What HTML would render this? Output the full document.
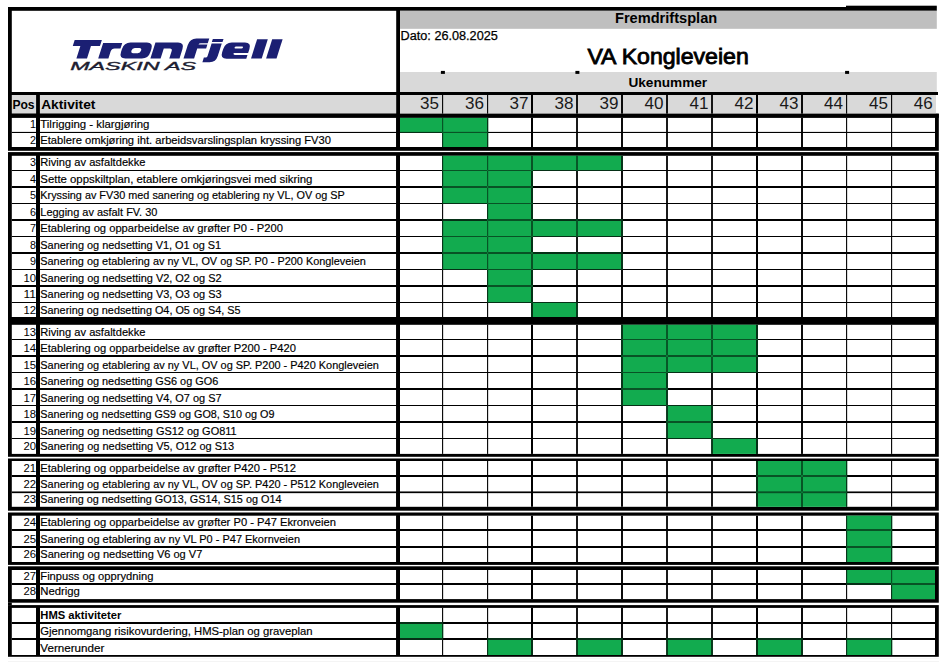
<!DOCTYPE html>
<html><head><meta charset="utf-8"><title>Fremdriftsplan</title>
<style>
html,body{margin:0;padding:0;background:#fff;}
body{width:947px;height:662px;overflow:hidden;}
svg{display:block;font-family:"Liberation Sans",sans-serif;}
</style></head><body>
<svg width="947" height="662" viewBox="0 0 947 662">
<rect width="947" height="662" fill="#fff"/>
<g>
<rect x="8.00" y="7.00" width="392.00" height="88.00" fill="#000"/>
<rect x="400.00" y="7.00" width="536.80" height="3.80" fill="#000"/>
<rect x="846.00" y="5.70" width="90.80" height="1.50" fill="#000"/>
<rect x="11.80" y="10.80" width="384.40" height="81.20" fill="#fff"/>
<rect x="400.00" y="10.80" width="536.80" height="18.10" fill="#bfbfbf"/>
<rect x="400.00" y="28.90" width="536.80" height="43.10" fill="#fff"/>
<rect x="400.00" y="72.00" width="536.80" height="20.00" fill="#d9d9d9"/>
<rect x="8.00" y="92.00" width="930.00" height="3.00" fill="#000"/>
<rect x="8.00" y="95.00" width="392.00" height="22.90" fill="#000"/>
<rect x="400.00" y="113.70" width="538.80" height="4.20" fill="#000"/>
<rect x="11.80" y="95.00" width="24.30" height="18.70" fill="#d9d9d9"/>
<rect x="39.90" y="95.00" width="356.30" height="18.70" fill="#d9d9d9"/>
<rect x="400.00" y="95.00" width="536.00" height="18.70" fill="#d9d9d9"/>
<rect x="442.05" y="95.00" width="1.10" height="18.70" fill="#000"/>
<rect x="487.05" y="95.00" width="1.10" height="18.70" fill="#000"/>
<rect x="531.00" y="95.00" width="2.00" height="18.70" fill="#000"/>
<rect x="576.10" y="95.00" width="1.80" height="18.70" fill="#000"/>
<rect x="621.05" y="95.00" width="1.90" height="18.70" fill="#000"/>
<rect x="666.10" y="95.00" width="1.80" height="18.70" fill="#000"/>
<rect x="711.10" y="95.00" width="1.80" height="18.70" fill="#000"/>
<rect x="756.00" y="95.00" width="2.00" height="18.70" fill="#000"/>
<rect x="801.05" y="95.00" width="1.90" height="18.70" fill="#000"/>
<rect x="846.05" y="95.00" width="1.10" height="18.70" fill="#000"/>
<rect x="891.05" y="95.00" width="1.10" height="18.70" fill="#000"/>
<rect x="440.90" y="70.90" width="4.00" height="3.00" fill="#000"/>
<rect x="575.40" y="70.90" width="4.00" height="3.00" fill="#000"/>
<rect x="845.10" y="70.90" width="4.00" height="3.00" fill="#000"/>
<rect x="8.00" y="113.70" width="930.80" height="37.10" fill="#000"/>
<rect x="11.80" y="117.90" width="24.30" height="29.10" fill="#fff"/>
<rect x="39.90" y="117.90" width="356.30" height="29.10" fill="#fff"/>
<rect x="400.00" y="117.90" width="535.00" height="29.10" fill="#fff"/>
<rect x="8.00" y="152.10" width="930.80" height="168.90" fill="#000"/>
<rect x="11.80" y="155.80" width="24.30" height="161.20" fill="#fff"/>
<rect x="39.90" y="155.80" width="356.30" height="161.20" fill="#fff"/>
<rect x="400.00" y="155.80" width="535.00" height="161.20" fill="#fff"/>
<rect x="8.00" y="321.00" width="930.80" height="135.80" fill="#000"/>
<rect x="11.80" y="324.80" width="24.30" height="129.10" fill="#fff"/>
<rect x="39.90" y="324.80" width="356.30" height="129.10" fill="#fff"/>
<rect x="400.00" y="324.80" width="535.00" height="129.10" fill="#fff"/>
<rect x="8.00" y="458.50" width="930.80" height="52.20" fill="#000"/>
<rect x="11.80" y="461.00" width="24.30" height="45.80" fill="#fff"/>
<rect x="39.90" y="461.00" width="356.30" height="45.80" fill="#fff"/>
<rect x="400.00" y="461.00" width="535.00" height="45.80" fill="#fff"/>
<rect x="8.00" y="512.50" width="930.80" height="52.40" fill="#000"/>
<rect x="11.80" y="515.70" width="24.30" height="46.30" fill="#fff"/>
<rect x="39.90" y="515.70" width="356.30" height="46.30" fill="#fff"/>
<rect x="400.00" y="515.70" width="535.00" height="46.30" fill="#fff"/>
<rect x="8.00" y="566.30" width="930.80" height="36.40" fill="#000"/>
<rect x="11.80" y="570.00" width="24.30" height="29.10" fill="#fff"/>
<rect x="39.90" y="570.00" width="356.30" height="29.10" fill="#fff"/>
<rect x="400.00" y="570.00" width="535.00" height="29.10" fill="#fff"/>
<rect x="8.00" y="605.10" width="930.80" height="51.70" fill="#000"/>
<rect x="11.80" y="607.90" width="24.30" height="47.10" fill="#fff"/>
<rect x="39.90" y="607.90" width="356.30" height="47.10" fill="#fff"/>
<rect x="400.00" y="607.90" width="535.00" height="47.10" fill="#fff"/>
<rect x="8.00" y="602.60" width="3.80" height="2.60" fill="#000"/>
<rect x="400.00" y="117.90" width="43.20" height="14.55" fill="#12ab50"/>
<rect x="442.60" y="117.90" width="45.60" height="14.55" fill="#12ab50"/>
<rect x="442.60" y="132.45" width="45.60" height="14.55" fill="#12ab50"/>
<rect x="442.60" y="155.80" width="45.60" height="14.70" fill="#12ab50"/>
<rect x="487.60" y="155.80" width="45.00" height="14.70" fill="#12ab50"/>
<rect x="532.00" y="155.80" width="45.60" height="14.70" fill="#12ab50"/>
<rect x="577.00" y="155.80" width="45.60" height="14.70" fill="#12ab50"/>
<rect x="442.60" y="170.50" width="45.60" height="16.50" fill="#12ab50"/>
<rect x="487.60" y="170.50" width="45.00" height="16.50" fill="#12ab50"/>
<rect x="442.60" y="187.00" width="45.60" height="16.50" fill="#12ab50"/>
<rect x="487.60" y="187.00" width="45.00" height="16.50" fill="#12ab50"/>
<rect x="487.60" y="203.50" width="45.00" height="16.50" fill="#12ab50"/>
<rect x="442.60" y="220.00" width="45.60" height="16.50" fill="#12ab50"/>
<rect x="487.60" y="220.00" width="45.00" height="16.50" fill="#12ab50"/>
<rect x="532.00" y="220.00" width="45.60" height="16.50" fill="#12ab50"/>
<rect x="577.00" y="220.00" width="45.60" height="16.50" fill="#12ab50"/>
<rect x="442.60" y="236.50" width="45.60" height="16.50" fill="#12ab50"/>
<rect x="487.60" y="236.50" width="45.00" height="16.50" fill="#12ab50"/>
<rect x="442.60" y="253.00" width="45.60" height="16.50" fill="#12ab50"/>
<rect x="487.60" y="253.00" width="45.00" height="16.50" fill="#12ab50"/>
<rect x="532.00" y="253.00" width="45.60" height="16.50" fill="#12ab50"/>
<rect x="577.00" y="253.00" width="45.60" height="16.50" fill="#12ab50"/>
<rect x="487.60" y="269.50" width="45.00" height="16.50" fill="#12ab50"/>
<rect x="487.60" y="286.00" width="45.00" height="16.50" fill="#12ab50"/>
<rect x="532.00" y="302.50" width="45.60" height="14.50" fill="#12ab50"/>
<rect x="622.00" y="324.80" width="45.60" height="14.70" fill="#12ab50"/>
<rect x="667.00" y="324.80" width="45.60" height="14.70" fill="#12ab50"/>
<rect x="712.00" y="324.80" width="45.60" height="14.70" fill="#12ab50"/>
<rect x="622.00" y="339.50" width="45.60" height="16.50" fill="#12ab50"/>
<rect x="667.00" y="339.50" width="45.60" height="16.50" fill="#12ab50"/>
<rect x="712.00" y="339.50" width="45.60" height="16.50" fill="#12ab50"/>
<rect x="622.00" y="356.00" width="45.60" height="16.50" fill="#12ab50"/>
<rect x="667.00" y="356.00" width="45.60" height="16.50" fill="#12ab50"/>
<rect x="712.00" y="356.00" width="45.60" height="16.50" fill="#12ab50"/>
<rect x="622.00" y="372.50" width="45.60" height="16.50" fill="#12ab50"/>
<rect x="622.00" y="389.00" width="45.60" height="16.50" fill="#12ab50"/>
<rect x="667.00" y="405.50" width="45.60" height="16.50" fill="#12ab50"/>
<rect x="667.00" y="422.00" width="45.60" height="16.50" fill="#12ab50"/>
<rect x="712.00" y="438.50" width="45.60" height="15.40" fill="#12ab50"/>
<rect x="757.00" y="461.00" width="45.60" height="15.00" fill="#12ab50"/>
<rect x="802.00" y="461.00" width="45.20" height="15.00" fill="#12ab50"/>
<rect x="757.00" y="476.00" width="45.60" height="16.30" fill="#12ab50"/>
<rect x="802.00" y="476.00" width="45.20" height="16.30" fill="#12ab50"/>
<rect x="757.00" y="492.30" width="45.60" height="14.50" fill="#12ab50"/>
<rect x="802.00" y="492.30" width="45.20" height="14.50" fill="#12ab50"/>
<rect x="846.60" y="515.70" width="45.60" height="14.30" fill="#12ab50"/>
<rect x="846.60" y="530.00" width="45.60" height="17.00" fill="#12ab50"/>
<rect x="846.60" y="547.00" width="45.60" height="15.00" fill="#12ab50"/>
<rect x="846.60" y="570.00" width="45.60" height="14.00" fill="#12ab50"/>
<rect x="891.60" y="570.00" width="43.40" height="14.00" fill="#12ab50"/>
<rect x="891.60" y="584.00" width="43.40" height="15.10" fill="#12ab50"/>
<rect x="400.00" y="623.00" width="43.20" height="16.00" fill="#12ab50"/>
<rect x="487.60" y="639.00" width="45.00" height="16.00" fill="#12ab50"/>
<rect x="577.00" y="639.00" width="45.60" height="16.00" fill="#12ab50"/>
<rect x="667.00" y="639.00" width="45.60" height="16.00" fill="#12ab50"/>
<rect x="757.00" y="639.00" width="45.60" height="16.00" fill="#12ab50"/>
<rect x="846.60" y="639.00" width="45.60" height="16.00" fill="#12ab50"/>
<rect x="11.80" y="131.90" width="923.20" height="1.10" fill="#000"/>
<rect x="442.05" y="117.90" width="1.10" height="29.10" fill="#000"/>
<rect x="487.05" y="117.90" width="1.10" height="29.10" fill="#000"/>
<rect x="531.00" y="117.90" width="2.00" height="29.10" fill="#000"/>
<rect x="576.10" y="117.90" width="1.80" height="29.10" fill="#000"/>
<rect x="621.05" y="117.90" width="1.90" height="29.10" fill="#000"/>
<rect x="666.10" y="117.90" width="1.80" height="29.10" fill="#000"/>
<rect x="711.10" y="117.90" width="1.80" height="29.10" fill="#000"/>
<rect x="756.00" y="117.90" width="2.00" height="29.10" fill="#000"/>
<rect x="801.05" y="117.90" width="1.90" height="29.10" fill="#000"/>
<rect x="846.05" y="117.90" width="1.10" height="29.10" fill="#000"/>
<rect x="891.05" y="117.90" width="1.10" height="29.10" fill="#000"/>
<rect x="36.10" y="117.90" width="3.80" height="29.10" fill="#000"/>
<rect x="396.20" y="117.90" width="3.80" height="29.10" fill="#000"/>
<rect x="11.80" y="170.00" width="923.20" height="1.00" fill="#000"/>
<rect x="11.80" y="186.00" width="923.20" height="2.00" fill="#000"/>
<rect x="11.80" y="203.00" width="923.20" height="1.00" fill="#000"/>
<rect x="11.80" y="219.00" width="923.20" height="2.00" fill="#000"/>
<rect x="11.80" y="236.00" width="923.20" height="1.00" fill="#000"/>
<rect x="11.80" y="252.00" width="923.20" height="2.00" fill="#000"/>
<rect x="11.80" y="269.00" width="923.20" height="1.00" fill="#000"/>
<rect x="11.80" y="285.00" width="923.20" height="2.00" fill="#000"/>
<rect x="11.80" y="302.00" width="923.20" height="1.00" fill="#000"/>
<rect x="442.05" y="155.80" width="1.10" height="161.20" fill="#000"/>
<rect x="487.05" y="155.80" width="1.10" height="161.20" fill="#000"/>
<rect x="531.00" y="155.80" width="2.00" height="161.20" fill="#000"/>
<rect x="576.10" y="155.80" width="1.80" height="161.20" fill="#000"/>
<rect x="621.05" y="155.80" width="1.90" height="161.20" fill="#000"/>
<rect x="666.10" y="155.80" width="1.80" height="161.20" fill="#000"/>
<rect x="711.10" y="155.80" width="1.80" height="161.20" fill="#000"/>
<rect x="756.00" y="155.80" width="2.00" height="161.20" fill="#000"/>
<rect x="801.05" y="155.80" width="1.90" height="161.20" fill="#000"/>
<rect x="846.05" y="155.80" width="1.10" height="161.20" fill="#000"/>
<rect x="891.05" y="155.80" width="1.10" height="161.20" fill="#000"/>
<rect x="36.10" y="155.80" width="3.80" height="161.20" fill="#000"/>
<rect x="396.20" y="155.80" width="3.80" height="161.20" fill="#000"/>
<rect x="11.80" y="339.00" width="923.20" height="1.00" fill="#000"/>
<rect x="11.80" y="355.00" width="923.20" height="2.00" fill="#000"/>
<rect x="11.80" y="372.00" width="923.20" height="1.00" fill="#000"/>
<rect x="11.80" y="388.00" width="923.20" height="2.00" fill="#000"/>
<rect x="11.80" y="405.00" width="923.20" height="1.00" fill="#000"/>
<rect x="11.80" y="421.00" width="923.20" height="2.00" fill="#000"/>
<rect x="11.80" y="438.00" width="923.20" height="1.00" fill="#000"/>
<rect x="442.05" y="324.80" width="1.10" height="129.10" fill="#000"/>
<rect x="487.05" y="324.80" width="1.10" height="129.10" fill="#000"/>
<rect x="531.00" y="324.80" width="2.00" height="129.10" fill="#000"/>
<rect x="576.10" y="324.80" width="1.80" height="129.10" fill="#000"/>
<rect x="621.05" y="324.80" width="1.90" height="129.10" fill="#000"/>
<rect x="666.10" y="324.80" width="1.80" height="129.10" fill="#000"/>
<rect x="711.10" y="324.80" width="1.80" height="129.10" fill="#000"/>
<rect x="756.00" y="324.80" width="2.00" height="129.10" fill="#000"/>
<rect x="801.05" y="324.80" width="1.90" height="129.10" fill="#000"/>
<rect x="846.05" y="324.80" width="1.10" height="129.10" fill="#000"/>
<rect x="891.05" y="324.80" width="1.10" height="129.10" fill="#000"/>
<rect x="36.10" y="324.80" width="3.80" height="129.10" fill="#000"/>
<rect x="396.20" y="324.80" width="3.80" height="129.10" fill="#000"/>
<rect x="11.80" y="475.00" width="923.20" height="2.00" fill="#000"/>
<rect x="11.80" y="491.45" width="923.20" height="1.70" fill="#000"/>
<rect x="442.05" y="461.00" width="1.10" height="45.80" fill="#000"/>
<rect x="487.05" y="461.00" width="1.10" height="45.80" fill="#000"/>
<rect x="531.00" y="461.00" width="2.00" height="45.80" fill="#000"/>
<rect x="576.10" y="461.00" width="1.80" height="45.80" fill="#000"/>
<rect x="621.05" y="461.00" width="1.90" height="45.80" fill="#000"/>
<rect x="666.10" y="461.00" width="1.80" height="45.80" fill="#000"/>
<rect x="711.10" y="461.00" width="1.80" height="45.80" fill="#000"/>
<rect x="756.00" y="461.00" width="2.00" height="45.80" fill="#000"/>
<rect x="801.05" y="461.00" width="1.90" height="45.80" fill="#000"/>
<rect x="846.05" y="461.00" width="1.10" height="45.80" fill="#000"/>
<rect x="891.05" y="461.00" width="1.10" height="45.80" fill="#000"/>
<rect x="36.10" y="461.00" width="3.80" height="45.80" fill="#000"/>
<rect x="396.20" y="461.00" width="3.80" height="45.80" fill="#000"/>
<rect x="11.80" y="529.00" width="923.20" height="2.00" fill="#000"/>
<rect x="11.80" y="546.00" width="923.20" height="2.00" fill="#000"/>
<rect x="442.05" y="515.70" width="1.10" height="46.30" fill="#000"/>
<rect x="487.05" y="515.70" width="1.10" height="46.30" fill="#000"/>
<rect x="531.00" y="515.70" width="2.00" height="46.30" fill="#000"/>
<rect x="576.10" y="515.70" width="1.80" height="46.30" fill="#000"/>
<rect x="621.05" y="515.70" width="1.90" height="46.30" fill="#000"/>
<rect x="666.10" y="515.70" width="1.80" height="46.30" fill="#000"/>
<rect x="711.10" y="515.70" width="1.80" height="46.30" fill="#000"/>
<rect x="756.00" y="515.70" width="2.00" height="46.30" fill="#000"/>
<rect x="801.05" y="515.70" width="1.90" height="46.30" fill="#000"/>
<rect x="846.05" y="515.70" width="1.10" height="46.30" fill="#000"/>
<rect x="891.05" y="515.70" width="1.10" height="46.30" fill="#000"/>
<rect x="36.10" y="515.70" width="3.80" height="46.30" fill="#000"/>
<rect x="396.20" y="515.70" width="3.80" height="46.30" fill="#000"/>
<rect x="11.80" y="583.00" width="923.20" height="2.00" fill="#000"/>
<rect x="442.05" y="570.00" width="1.10" height="29.10" fill="#000"/>
<rect x="487.05" y="570.00" width="1.10" height="29.10" fill="#000"/>
<rect x="531.00" y="570.00" width="2.00" height="29.10" fill="#000"/>
<rect x="576.10" y="570.00" width="1.80" height="29.10" fill="#000"/>
<rect x="621.05" y="570.00" width="1.90" height="29.10" fill="#000"/>
<rect x="666.10" y="570.00" width="1.80" height="29.10" fill="#000"/>
<rect x="711.10" y="570.00" width="1.80" height="29.10" fill="#000"/>
<rect x="756.00" y="570.00" width="2.00" height="29.10" fill="#000"/>
<rect x="801.05" y="570.00" width="1.90" height="29.10" fill="#000"/>
<rect x="846.05" y="570.00" width="1.10" height="29.10" fill="#000"/>
<rect x="891.05" y="570.00" width="1.10" height="29.10" fill="#000"/>
<rect x="36.10" y="570.00" width="3.80" height="29.10" fill="#000"/>
<rect x="396.20" y="570.00" width="3.80" height="29.10" fill="#000"/>
<rect x="11.80" y="622.00" width="923.20" height="2.00" fill="#000"/>
<rect x="11.80" y="638.00" width="923.20" height="2.00" fill="#000"/>
<rect x="442.05" y="607.90" width="1.10" height="47.10" fill="#000"/>
<rect x="487.05" y="607.90" width="1.10" height="47.10" fill="#000"/>
<rect x="531.00" y="607.90" width="2.00" height="47.10" fill="#000"/>
<rect x="576.10" y="607.90" width="1.80" height="47.10" fill="#000"/>
<rect x="621.05" y="607.90" width="1.90" height="47.10" fill="#000"/>
<rect x="666.10" y="607.90" width="1.80" height="47.10" fill="#000"/>
<rect x="711.10" y="607.90" width="1.80" height="47.10" fill="#000"/>
<rect x="756.00" y="607.90" width="2.00" height="47.10" fill="#000"/>
<rect x="801.05" y="607.90" width="1.90" height="47.10" fill="#000"/>
<rect x="846.05" y="607.90" width="1.10" height="47.10" fill="#000"/>
<rect x="891.05" y="607.90" width="1.10" height="47.10" fill="#000"/>
<rect x="36.10" y="607.90" width="3.80" height="47.10" fill="#000"/>
<rect x="396.20" y="607.90" width="3.80" height="47.10" fill="#000"/>
<rect x="400.00" y="117.90" width="43.15" height="15.10" fill="#12ab50" fill-opacity="0.28"/>
<rect x="442.05" y="117.90" width="46.10" height="15.10" fill="#12ab50" fill-opacity="0.28"/>
<rect x="442.05" y="131.90" width="46.10" height="15.10" fill="#12ab50" fill-opacity="0.28"/>
<rect x="442.05" y="155.80" width="46.10" height="15.20" fill="#12ab50" fill-opacity="0.28"/>
<rect x="487.05" y="155.80" width="45.95" height="15.20" fill="#12ab50" fill-opacity="0.28"/>
<rect x="531.00" y="155.80" width="46.90" height="15.20" fill="#12ab50" fill-opacity="0.28"/>
<rect x="576.10" y="155.80" width="46.85" height="15.20" fill="#12ab50" fill-opacity="0.28"/>
<rect x="442.05" y="170.00" width="46.10" height="18.00" fill="#12ab50" fill-opacity="0.28"/>
<rect x="487.05" y="170.00" width="45.95" height="18.00" fill="#12ab50" fill-opacity="0.28"/>
<rect x="442.05" y="186.00" width="46.10" height="18.00" fill="#12ab50" fill-opacity="0.28"/>
<rect x="487.05" y="186.00" width="45.95" height="18.00" fill="#12ab50" fill-opacity="0.28"/>
<rect x="487.05" y="203.00" width="45.95" height="18.00" fill="#12ab50" fill-opacity="0.28"/>
<rect x="442.05" y="219.00" width="46.10" height="18.00" fill="#12ab50" fill-opacity="0.28"/>
<rect x="487.05" y="219.00" width="45.95" height="18.00" fill="#12ab50" fill-opacity="0.28"/>
<rect x="531.00" y="219.00" width="46.90" height="18.00" fill="#12ab50" fill-opacity="0.28"/>
<rect x="576.10" y="219.00" width="46.85" height="18.00" fill="#12ab50" fill-opacity="0.28"/>
<rect x="442.05" y="236.00" width="46.10" height="18.00" fill="#12ab50" fill-opacity="0.28"/>
<rect x="487.05" y="236.00" width="45.95" height="18.00" fill="#12ab50" fill-opacity="0.28"/>
<rect x="442.05" y="252.00" width="46.10" height="18.00" fill="#12ab50" fill-opacity="0.28"/>
<rect x="487.05" y="252.00" width="45.95" height="18.00" fill="#12ab50" fill-opacity="0.28"/>
<rect x="531.00" y="252.00" width="46.90" height="18.00" fill="#12ab50" fill-opacity="0.28"/>
<rect x="576.10" y="252.00" width="46.85" height="18.00" fill="#12ab50" fill-opacity="0.28"/>
<rect x="487.05" y="269.00" width="45.95" height="18.00" fill="#12ab50" fill-opacity="0.28"/>
<rect x="487.05" y="285.00" width="45.95" height="18.00" fill="#12ab50" fill-opacity="0.28"/>
<rect x="531.00" y="302.00" width="46.90" height="15.00" fill="#12ab50" fill-opacity="0.28"/>
<rect x="621.05" y="324.80" width="46.85" height="15.20" fill="#12ab50" fill-opacity="0.28"/>
<rect x="666.10" y="324.80" width="46.80" height="15.20" fill="#12ab50" fill-opacity="0.28"/>
<rect x="711.10" y="324.80" width="46.90" height="15.20" fill="#12ab50" fill-opacity="0.28"/>
<rect x="621.05" y="339.00" width="46.85" height="18.00" fill="#12ab50" fill-opacity="0.28"/>
<rect x="666.10" y="339.00" width="46.80" height="18.00" fill="#12ab50" fill-opacity="0.28"/>
<rect x="711.10" y="339.00" width="46.90" height="18.00" fill="#12ab50" fill-opacity="0.28"/>
<rect x="621.05" y="355.00" width="46.85" height="18.00" fill="#12ab50" fill-opacity="0.28"/>
<rect x="666.10" y="355.00" width="46.80" height="18.00" fill="#12ab50" fill-opacity="0.28"/>
<rect x="711.10" y="355.00" width="46.90" height="18.00" fill="#12ab50" fill-opacity="0.28"/>
<rect x="621.05" y="372.00" width="46.85" height="18.00" fill="#12ab50" fill-opacity="0.28"/>
<rect x="621.05" y="388.00" width="46.85" height="18.00" fill="#12ab50" fill-opacity="0.28"/>
<rect x="666.10" y="405.00" width="46.80" height="18.00" fill="#12ab50" fill-opacity="0.28"/>
<rect x="666.10" y="421.00" width="46.80" height="18.00" fill="#12ab50" fill-opacity="0.28"/>
<rect x="711.10" y="438.00" width="46.90" height="15.90" fill="#12ab50" fill-opacity="0.28"/>
<rect x="756.00" y="461.00" width="46.95" height="16.00" fill="#12ab50" fill-opacity="0.28"/>
<rect x="801.05" y="461.00" width="46.10" height="16.00" fill="#12ab50" fill-opacity="0.28"/>
<rect x="756.00" y="475.00" width="46.95" height="18.15" fill="#12ab50" fill-opacity="0.28"/>
<rect x="801.05" y="475.00" width="46.10" height="18.15" fill="#12ab50" fill-opacity="0.28"/>
<rect x="756.00" y="491.45" width="46.95" height="15.35" fill="#12ab50" fill-opacity="0.28"/>
<rect x="801.05" y="491.45" width="46.10" height="15.35" fill="#12ab50" fill-opacity="0.28"/>
<rect x="846.05" y="515.70" width="46.10" height="15.30" fill="#12ab50" fill-opacity="0.28"/>
<rect x="846.05" y="529.00" width="46.10" height="19.00" fill="#12ab50" fill-opacity="0.28"/>
<rect x="846.05" y="546.00" width="46.10" height="16.00" fill="#12ab50" fill-opacity="0.28"/>
<rect x="846.05" y="570.00" width="46.10" height="15.00" fill="#12ab50" fill-opacity="0.28"/>
<rect x="891.05" y="570.00" width="43.95" height="15.00" fill="#12ab50" fill-opacity="0.28"/>
<rect x="891.05" y="583.00" width="43.95" height="16.10" fill="#12ab50" fill-opacity="0.28"/>
<rect x="400.00" y="622.00" width="43.15" height="18.00" fill="#12ab50" fill-opacity="0.28"/>
<rect x="487.05" y="638.00" width="45.95" height="17.00" fill="#12ab50" fill-opacity="0.28"/>
<rect x="576.10" y="638.00" width="46.85" height="17.00" fill="#12ab50" fill-opacity="0.28"/>
<rect x="666.10" y="638.00" width="46.80" height="17.00" fill="#12ab50" fill-opacity="0.28"/>
<rect x="756.00" y="638.00" width="46.95" height="17.00" fill="#12ab50" fill-opacity="0.28"/>
<rect x="846.05" y="638.00" width="46.10" height="17.00" fill="#12ab50" fill-opacity="0.28"/>
<rect x="8.00" y="658.20" width="931.00" height="0.80" fill="#f7f7f7"/>
<rect x="8.00" y="661.00" width="931.00" height="1.00" fill="#f4f4f4"/>
</g>
<g>
<text x="30.00" y="128.00" font-size="11.8" font-weight="400" fill="#000" textLength="6.00" lengthAdjust="spacingAndGlyphs" >1</text>
<text x="40.30" y="128.00" font-size="11.8" font-weight="400" fill="#000" textLength="109.10" lengthAdjust="spacingAndGlyphs" stroke="#000" stroke-width="0.18">Tilrigging - klargjøring</text>
<text x="30.00" y="144.00" font-size="11.8" font-weight="400" fill="#000" textLength="6.00" lengthAdjust="spacingAndGlyphs" >2</text>
<text x="40.30" y="144.00" font-size="11.8" font-weight="400" fill="#000" textLength="290.70" lengthAdjust="spacingAndGlyphs" stroke="#000" stroke-width="0.18">Etablere omkjøring iht. arbeidsvarslingsplan kryssing FV30</text>
<text x="30.00" y="166.00" font-size="11.8" font-weight="400" fill="#000" textLength="6.00" lengthAdjust="spacingAndGlyphs" >3</text>
<text x="40.30" y="166.00" font-size="11.8" font-weight="400" fill="#000" textLength="105.10" lengthAdjust="spacingAndGlyphs" stroke="#000" stroke-width="0.18">Riving av asfaltdekke</text>
<text x="30.00" y="183.00" font-size="11.8" font-weight="400" fill="#000" textLength="6.00" lengthAdjust="spacingAndGlyphs" >4</text>
<text x="40.30" y="183.00" font-size="11.8" font-weight="400" fill="#000" textLength="272.10" lengthAdjust="spacingAndGlyphs" stroke="#000" stroke-width="0.18">Sette oppskiltplan, etablere omkjøringsvei med sikring</text>
<text x="30.00" y="199.00" font-size="11.8" font-weight="400" fill="#000" textLength="6.00" lengthAdjust="spacingAndGlyphs" >5</text>
<text x="40.30" y="199.00" font-size="11.8" font-weight="400" fill="#000" textLength="304.40" lengthAdjust="spacingAndGlyphs" stroke="#000" stroke-width="0.18">Kryssing av FV30 med sanering og etablering ny VL, OV og SP</text>
<text x="30.00" y="216.00" font-size="11.8" font-weight="400" fill="#000" textLength="6.00" lengthAdjust="spacingAndGlyphs" >6</text>
<text x="40.30" y="216.00" font-size="11.8" font-weight="400" fill="#000" textLength="117.10" lengthAdjust="spacingAndGlyphs" stroke="#000" stroke-width="0.18">Legging av asfalt FV. 30</text>
<text x="30.00" y="232.00" font-size="11.8" font-weight="400" fill="#000" textLength="6.00" lengthAdjust="spacingAndGlyphs" >7</text>
<text x="40.30" y="232.00" font-size="11.8" font-weight="400" fill="#000" textLength="242.60" lengthAdjust="spacingAndGlyphs" stroke="#000" stroke-width="0.18">Etablering og opparbeidelse av grøfter P0 - P200</text>
<text x="30.00" y="249.00" font-size="11.8" font-weight="400" fill="#000" textLength="6.00" lengthAdjust="spacingAndGlyphs" >8</text>
<text x="40.30" y="249.00" font-size="11.8" font-weight="400" fill="#000" textLength="180.90" lengthAdjust="spacingAndGlyphs" stroke="#000" stroke-width="0.18">Sanering og nedsetting V1, O1 og S1</text>
<text x="30.00" y="265.00" font-size="11.8" font-weight="400" fill="#000" textLength="6.00" lengthAdjust="spacingAndGlyphs" >9</text>
<text x="40.30" y="265.00" font-size="11.8" font-weight="400" fill="#000" textLength="325.60" lengthAdjust="spacingAndGlyphs" stroke="#000" stroke-width="0.18">Sanering og etablering av ny VL, OV og SP. P0 - P200 Kongleveien</text>
<text x="23.40" y="282.00" font-size="11.8" font-weight="400" fill="#000" textLength="12.60" lengthAdjust="spacingAndGlyphs" >10</text>
<text x="40.30" y="282.00" font-size="11.8" font-weight="400" fill="#000" textLength="181.30" lengthAdjust="spacingAndGlyphs" stroke="#000" stroke-width="0.18">Sanering og nedsetting V2, O2 og S2</text>
<text x="23.40" y="298.00" font-size="11.8" font-weight="400" fill="#000" textLength="12.60" lengthAdjust="spacingAndGlyphs" >11</text>
<text x="40.30" y="298.00" font-size="11.8" font-weight="400" fill="#000" textLength="181.30" lengthAdjust="spacingAndGlyphs" stroke="#000" stroke-width="0.18">Sanering og nedsetting V3, O3 og S3</text>
<text x="23.40" y="314.00" font-size="11.8" font-weight="400" fill="#000" textLength="12.60" lengthAdjust="spacingAndGlyphs" >12</text>
<text x="40.30" y="314.00" font-size="11.8" font-weight="400" fill="#000" textLength="200.30" lengthAdjust="spacingAndGlyphs" stroke="#000" stroke-width="0.18">Sanering og nedsetting O4, O5 og S4, S5</text>
<text x="23.40" y="336.00" font-size="11.8" font-weight="400" fill="#000" textLength="12.60" lengthAdjust="spacingAndGlyphs" >13</text>
<text x="40.30" y="336.00" font-size="11.8" font-weight="400" fill="#000" textLength="105.10" lengthAdjust="spacingAndGlyphs" stroke="#000" stroke-width="0.18">Riving av asfaltdekke</text>
<text x="23.40" y="352.00" font-size="11.8" font-weight="400" fill="#000" textLength="12.60" lengthAdjust="spacingAndGlyphs" >14</text>
<text x="40.30" y="352.00" font-size="11.8" font-weight="400" fill="#000" textLength="255.70" lengthAdjust="spacingAndGlyphs" stroke="#000" stroke-width="0.18">Etablering og opparbeidelse av grøfter P200 - P420</text>
<text x="23.40" y="369.00" font-size="11.8" font-weight="400" fill="#000" textLength="12.60" lengthAdjust="spacingAndGlyphs" >15</text>
<text x="40.30" y="369.00" font-size="11.8" font-weight="400" fill="#000" textLength="338.60" lengthAdjust="spacingAndGlyphs" stroke="#000" stroke-width="0.18">Sanering og etablering av ny VL, OV og SP. P200 - P420 Kongleveien</text>
<text x="23.40" y="385.00" font-size="11.8" font-weight="400" fill="#000" textLength="12.60" lengthAdjust="spacingAndGlyphs" >16</text>
<text x="40.30" y="385.00" font-size="11.8" font-weight="400" fill="#000" textLength="177.90" lengthAdjust="spacingAndGlyphs" stroke="#000" stroke-width="0.18">Sanering og nedsetting GS6 og GO6</text>
<text x="23.40" y="402.00" font-size="11.8" font-weight="400" fill="#000" textLength="12.60" lengthAdjust="spacingAndGlyphs" >17</text>
<text x="40.30" y="402.00" font-size="11.8" font-weight="400" fill="#000" textLength="181.30" lengthAdjust="spacingAndGlyphs" stroke="#000" stroke-width="0.18">Sanering og nedsetting V4, O7 og S7</text>
<text x="23.40" y="418.00" font-size="11.8" font-weight="400" fill="#000" textLength="12.60" lengthAdjust="spacingAndGlyphs" >18</text>
<text x="40.30" y="418.00" font-size="11.8" font-weight="400" fill="#000" textLength="234.20" lengthAdjust="spacingAndGlyphs" stroke="#000" stroke-width="0.18">Sanering og nedsetting GS9 og GO8, S10 og O9</text>
<text x="23.40" y="435.00" font-size="11.8" font-weight="400" fill="#000" textLength="12.60" lengthAdjust="spacingAndGlyphs" >19</text>
<text x="40.30" y="435.00" font-size="11.8" font-weight="400" fill="#000" textLength="196.30" lengthAdjust="spacingAndGlyphs" stroke="#000" stroke-width="0.18">Sanering og nedsetting GS12 og GO811</text>
<text x="23.40" y="450.00" font-size="11.8" font-weight="400" fill="#000" textLength="12.60" lengthAdjust="spacingAndGlyphs" >20</text>
<text x="40.30" y="450.00" font-size="11.8" font-weight="400" fill="#000" textLength="193.90" lengthAdjust="spacingAndGlyphs" stroke="#000" stroke-width="0.18">Sanering og nedsetting V5, O12 og S13</text>
<text x="23.40" y="472.00" font-size="11.8" font-weight="400" fill="#000" textLength="12.60" lengthAdjust="spacingAndGlyphs" >21</text>
<text x="40.30" y="472.00" font-size="11.8" font-weight="400" fill="#000" textLength="255.70" lengthAdjust="spacingAndGlyphs" stroke="#000" stroke-width="0.18">Etablering og opparbeidelse av grøfter P420 - P512</text>
<text x="23.40" y="488.00" font-size="11.8" font-weight="400" fill="#000" textLength="12.60" lengthAdjust="spacingAndGlyphs" >22</text>
<text x="40.30" y="488.00" font-size="11.8" font-weight="400" fill="#000" textLength="338.60" lengthAdjust="spacingAndGlyphs" stroke="#000" stroke-width="0.18">Sanering og etablering av ny VL, OV og SP. P420 - P512 Kongleveien</text>
<text x="23.40" y="503.00" font-size="11.8" font-weight="400" fill="#000" textLength="12.60" lengthAdjust="spacingAndGlyphs" >23</text>
<text x="40.30" y="503.00" font-size="11.8" font-weight="400" fill="#000" textLength="241.20" lengthAdjust="spacingAndGlyphs" stroke="#000" stroke-width="0.18">Sanering og nedsetting GO13, GS14, S15 og O14</text>
<text x="23.40" y="526.00" font-size="11.8" font-weight="400" fill="#000" textLength="12.60" lengthAdjust="spacingAndGlyphs" >24</text>
<text x="40.30" y="526.00" font-size="11.8" font-weight="400" fill="#000" textLength="295.60" lengthAdjust="spacingAndGlyphs" stroke="#000" stroke-width="0.18">Etablering og opparbeidelse av grøfter P0 - P47 Ekronveien</text>
<text x="23.40" y="543.00" font-size="11.8" font-weight="400" fill="#000" textLength="12.60" lengthAdjust="spacingAndGlyphs" >25</text>
<text x="40.30" y="543.00" font-size="11.8" font-weight="400" fill="#000" textLength="259.70" lengthAdjust="spacingAndGlyphs" stroke="#000" stroke-width="0.18">Sanering og etablering av ny VL P0 - P47 Ekornveien</text>
<text x="23.40" y="558.00" font-size="11.8" font-weight="400" fill="#000" textLength="12.60" lengthAdjust="spacingAndGlyphs" >26</text>
<text x="40.30" y="558.00" font-size="11.8" font-weight="400" fill="#000" textLength="162.00" lengthAdjust="spacingAndGlyphs" stroke="#000" stroke-width="0.18">Sanering og nedsetting V6 og V7</text>
<text x="23.40" y="580.00" font-size="11.8" font-weight="400" fill="#000" textLength="12.60" lengthAdjust="spacingAndGlyphs" >27</text>
<text x="40.30" y="580.00" font-size="11.8" font-weight="400" fill="#000" textLength="113.10" lengthAdjust="spacingAndGlyphs" stroke="#000" stroke-width="0.18">Finpuss og opprydning</text>
<text x="23.40" y="595.00" font-size="11.8" font-weight="400" fill="#000" textLength="12.60" lengthAdjust="spacingAndGlyphs" >28</text>
<text x="40.30" y="595.00" font-size="11.8" font-weight="400" fill="#000" textLength="39.60" lengthAdjust="spacingAndGlyphs" stroke="#000" stroke-width="0.18">Nedrigg</text>
<text x="40.30" y="619.00" font-size="11.8" font-weight="700" fill="#000" textLength="81.10" lengthAdjust="spacingAndGlyphs" >HMS aktiviteter</text>
<text x="40.30" y="635.00" font-size="11.8" font-weight="400" fill="#000" textLength="272.30" lengthAdjust="spacingAndGlyphs" stroke="#000" stroke-width="0.18">Gjennomgang risikovurdering, HMS-plan og graveplan</text>
<text x="40.30" y="652.00" font-size="11.8" font-weight="400" fill="#000" textLength="64.10" lengthAdjust="spacingAndGlyphs" stroke="#000" stroke-width="0.18">Vernerunder</text>
<text x="12.40" y="108.70" font-size="13.0" font-weight="700" fill="#000" textLength="22.20" lengthAdjust="spacingAndGlyphs" >Pos</text>
<text x="41.20" y="108.70" font-size="13.2" font-weight="700" fill="#000" textLength="54.20" lengthAdjust="spacingAndGlyphs" >Aktivitet</text>
<text x="420.00" y="108.90" font-size="15.9" font-weight="400" fill="#1a1a1a" textLength="19.00" lengthAdjust="spacingAndGlyphs" >35</text>
<text x="465.00" y="108.90" font-size="15.9" font-weight="400" fill="#1a1a1a" textLength="19.00" lengthAdjust="spacingAndGlyphs" >36</text>
<text x="509.40" y="108.90" font-size="15.9" font-weight="400" fill="#1a1a1a" textLength="19.00" lengthAdjust="spacingAndGlyphs" >37</text>
<text x="554.40" y="108.90" font-size="15.9" font-weight="400" fill="#1a1a1a" textLength="19.00" lengthAdjust="spacingAndGlyphs" >38</text>
<text x="599.40" y="108.90" font-size="15.9" font-weight="400" fill="#1a1a1a" textLength="19.00" lengthAdjust="spacingAndGlyphs" >39</text>
<text x="644.40" y="108.90" font-size="15.9" font-weight="400" fill="#1a1a1a" textLength="19.00" lengthAdjust="spacingAndGlyphs" >40</text>
<text x="689.40" y="108.90" font-size="15.9" font-weight="400" fill="#1a1a1a" textLength="19.00" lengthAdjust="spacingAndGlyphs" >41</text>
<text x="734.40" y="108.90" font-size="15.9" font-weight="400" fill="#1a1a1a" textLength="19.00" lengthAdjust="spacingAndGlyphs" >42</text>
<text x="779.40" y="108.90" font-size="15.9" font-weight="400" fill="#1a1a1a" textLength="19.00" lengthAdjust="spacingAndGlyphs" >43</text>
<text x="824.00" y="108.90" font-size="15.9" font-weight="400" fill="#1a1a1a" textLength="19.00" lengthAdjust="spacingAndGlyphs" >44</text>
<text x="869.00" y="108.90" font-size="15.9" font-weight="400" fill="#1a1a1a" textLength="19.00" lengthAdjust="spacingAndGlyphs" >45</text>
<text x="913.80" y="108.90" font-size="15.9" font-weight="400" fill="#1a1a1a" textLength="19.00" lengthAdjust="spacingAndGlyphs" >46</text>
<text x="615.00" y="22.80" font-size="14.4" font-weight="700" fill="#000" textLength="102.20" lengthAdjust="spacingAndGlyphs" >Fremdriftsplan</text>
<text x="400.60" y="39.90" font-size="12.0" font-weight="400" fill="#000" textLength="97.20" lengthAdjust="spacingAndGlyphs" stroke="#000" stroke-width="0.25">Dato: 26.08.2025</text>
<text x="587.40" y="63.50" font-size="21.4" font-weight="400" fill="#000" textLength="161.40" lengthAdjust="spacingAndGlyphs" stroke="#000" stroke-width="0.8">VA Kongleveien</text>
<text x="628.40" y="86.80" font-size="11.9" font-weight="700" fill="#000" textLength="78.80" lengthAdjust="spacingAndGlyphs" >Ukenummer</text>
</g>

<g fill="#1b1f73" fill-rule="evenodd" transform="translate(0,58.4) skewX(-17.7) translate(0,-58.4)">
<path d="M68.8 40H96V46H87V58.4H76.4V46H68.8Z"/>
<path d="M98.2 42.9H117.3V48.4H111.5Q108.4 48.4 108.4 51.5V58.4H98.2Z"/>
<path d="M125.5 42.6H141.9Q148.4 42.6 148.4 49.1V52.1Q148.4 58.6 141.9 58.6H125.5Q119 58.6 119 52.1V49.1Q119 42.6 125.5 42.6ZM131.5 48H136.1Q138.6 48 138.6 50.6Q138.6 53.2 136.1 53.2H131.5Q129 53.2 129 50.6Q129 48 131.5 48Z"/>
<path d="M150.4 42.6H173Q179.5 42.6 179.5 49.1V58.4H169.3V51Q169.3 48.4 166.7 48.4H160.6V58.4H150.4Z"/>
<path d="M183.5 58.4V45Q183.5 38.4 190.1 38.4H202.9V43.3H196Q194.1 43.3 194.1 44.6H203V48.6H194.1V58.4Z"/>
<path d="M206.6 38.9H217.3V42H206.6ZM206.8 43.4H217V56Q217 62.2 210.8 62.2H203.6V57.6H205.4Q206.8 57.6 206.8 56.2Z"/>
<path d="M226.7 42.4H239.9Q246.4 42.4 246.4 48.9V53H231.9Q231.9 55 233.9 55H246.4V58.8H226.7Q220.2 58.8 220.2 52.3V48.9Q220.2 42.4 226.7 42.4ZM232.3 46.4H238.3Q239.5 46.4 239.5 47.5Q239.5 48.6 238.3 48.6H232.3Q231.1 48.6 231.1 47.5Q231.1 46.4 232.3 46.4Z"/>
<path d="M251 39.3H261.7V58.4H251Z"/>
<path d="M266.1 39.3H276.5V58.4H266.1Z"/>
</g>
<text x="70.2" y="69.6" font-size="10.2" font-weight="400" font-style="italic" fill="#1c1c30" stroke="#1c1c30" stroke-width="0.3" textLength="126" lengthAdjust="spacingAndGlyphs">MASKIN AS</text>

</svg>
</body></html>
